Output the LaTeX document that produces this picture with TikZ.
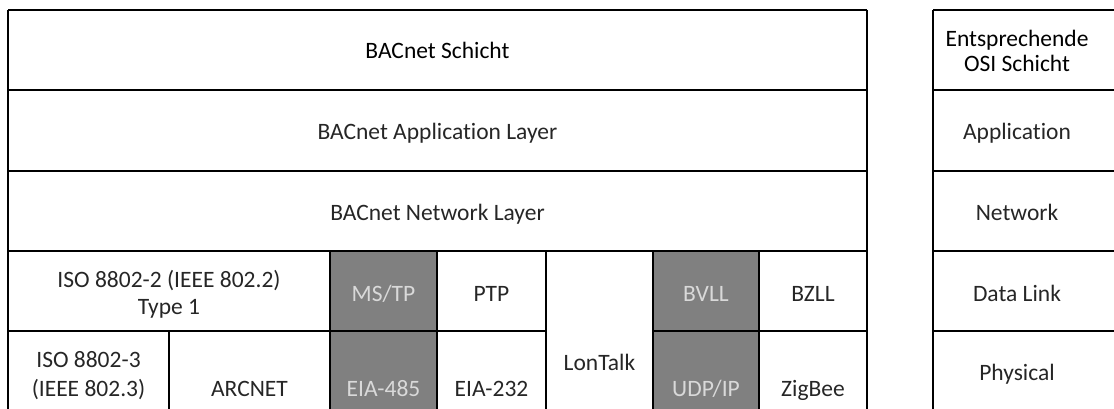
\documentclass[tikz,border=0pt]{standalone}
\usepackage{fontspec}
\setmainfont{Carlito}[Ligatures=CommonOff]
\definecolor{cellgray}{HTML}{808080}
\definecolor{cellfont}{HTML}{D9D9D9}
\definecolor{textgray}{HTML}{262626}

\begin{document}
\begin{tikzpicture}[x=1pt, y=-1pt, line width=1.5pt,
    lbl/.style={anchor=base, inner sep=0pt, text=textgray, font=\fontsize{23.5}{28}\selectfont},
    lblgray/.style={lbl, text=cellfont}]
    \useasboundingbox (0,0) rectangle (1114,409);

    % grey cells
    \fill[cellgray] (330,251) rectangle (437,409);
    \fill[cellgray] (653,251) rectangle (759,409);

    % BACnet table
    \draw (8,10)   -- (867,10);
    \draw (8,90)   -- (867,90);
    \draw (8,171)  -- (867,171);
    \draw (8,251)  -- (867,251);
    \draw (8,331)  -- (546,331);
    \draw (653,331) -- (867,331);
    \draw (8,10)   -- (8,409);
    \draw (867,10) -- (867,409);
    \draw (330,251) -- (330,409);
    \draw (437,251) -- (437,409);
    \draw (546,251) -- (546,409);
    \draw (653,251) -- (653,409);
    \draw (759,251) -- (759,409);
    \draw (169,331) -- (169,409);

    % OSI table
    \draw (933,10)  -- (1114,10);
    \draw (933,90)  -- (1114,90);
    \draw (933,171) -- (1114,171);
    \draw (933,251) -- (1114,251);
    \draw (933,331) -- (1114,331);
    \draw (933,10)  -- (933,409);

    % header
    \node[lbl, text=black] (hdrbacnet) at (437.5,59) {BACnet Schicht};
    \node[lbl, text=black] (hdrosia)   at (1017,47)  {Entsprechende};
    \node[lbl, text=black] (hdrosib)   at (1017,72)  {OSI Schicht};

    % application and network
    \node[lbl] (app)    at (437.5,140) {BACnet Application Layer};
    \node[lbl] (apposi) at (1017,140)  {Application};
    \node[lbl] (net)    at (437.5,220) {BACnet Network Layer};
    \node[lbl] (netosi) at (1017,220)  {Network};

    % data link
    \node[lbl]     (isoa)     at (169,287)   {ISO 8802-2 (IEEE 802.2)};
    \node[lbl]     (isob)     at (169,314)   {Type 1};
    \node[lblgray] (mstp)     at (383.5,301) {MS/TP};
    \node[lbl]     (ptp)      at (491.5,301) {PTP};
    \node[lblgray] (bvll)     at (706,301)   {BVLL};
    \node[lbl]     (bzll)     at (813,301)   {BZLL};
    \node[lbl]     (datalink) at (1017,301)  {Data Link};

    % physical
    \node[lbl]     (ethera)   at (88.5,367)  {ISO 8802-3};
    \node[lbl]     (etherb)   at (88.5,396)  {(IEEE 802.3)};
    \node[lbl]     (arcnet)   at (249.5,396) {ARCNET};
    \node[lblgray] (eiafive)  at (383.5,396) {EIA-485};
    \node[lbl]     (eiatwo)   at (491.5,396) {EIA-232};
    \node[lbl]     (lontalk)  at (599.5,370) {LonTalk};
    \node[lblgray] (udpip)    at (706,396)   {UDP/IP};
    \node[lbl]     (zigbee)   at (813,396)   {ZigBee};
    \node[lbl]     (physical) at (1017,380)  {Physical};

\end{tikzpicture}
\end{document}
